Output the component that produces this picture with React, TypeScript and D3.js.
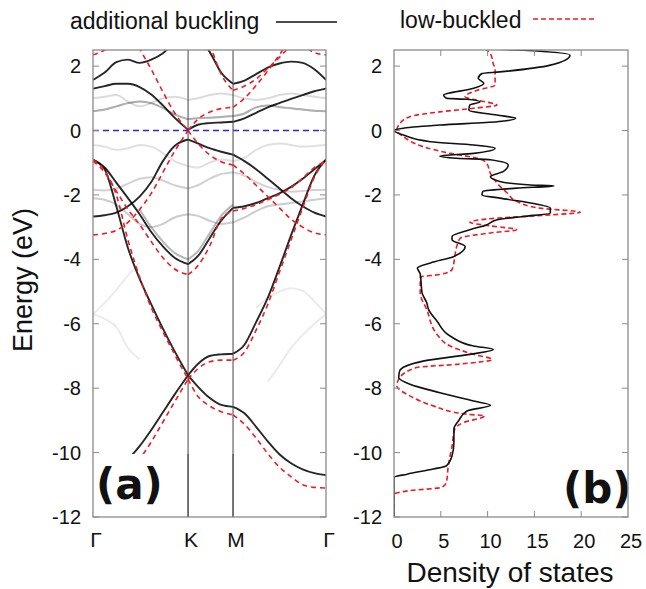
import React from "react";
import * as d3 from "d3";

// k-path sample positions (fraction of Γ-K-M-Γ path)
const kGrid = [0, 0.05, 0.1, 0.15, 0.2, 0.25, 0.3, 0.35, 0.408, 0.45, 0.5, 0.55, 0.601, 0.65, 0.7, 0.75, 0.8, 0.85, 0.9, 0.95, 1];
const kPoints = [0, 0.408, 0.601, 1];
const kLabels = ["Γ", "K", "M", "Γ"];
const energyTicks = [2, 0, -2, -4, -6, -8, -10, -12];
const dosTicks = [0, 5, 10, 15, 20, 25];

// additional buckling: dark bands (eV at kGrid)
const addSigma1 = [-10.7, -10.62, -10.45, -10.2, -9.8, -9.3, -8.75, -8.2, -7.6, -7.95, -8.3, -8.52, -8.58, -8.78, -9.2, -9.65, -10.05, -10.33, -10.52, -10.64, -10.7];
const addSigma2 = [-0.9, -1.2, -2.35, -3.65, -4.6, -5.4, -6.15, -6.85, -7.6, -7.25, -7.0, -6.95, -6.93, -6.65, -5.95, -5.2, -4.25, -3.25, -2.3, -1.4, -0.9];
const addSigma3 = [-0.92, -1.15, -1.62, -2.1, -2.6, -3.15, -3.6, -3.95, -4.15, -3.9, -3.35, -2.8, -2.4, -2.35, -2.25, -2.1, -1.95, -1.75, -1.5, -1.2, -0.92];
const addPi = [-2.67, -2.63, -2.55, -2.35, -2.05, -1.6, -0.95, -0.48, -0.28, -0.4, -0.55, -0.66, -0.75, -0.95, -1.2, -1.5, -1.8, -2.1, -2.35, -2.55, -2.67];
const addPiStar = [1.3, 1.38, 1.45, 1.45, 1.35, 1.12, 0.78, 0.4, 0.02, 0.18, 0.23, 0.25, 0.27, 0.38, 0.55, 0.72, 0.85, 0.98, 1.1, 1.22, 1.3];
const addUpper = [1.57, 1.8, 2.12, 2.2, 2.1, 2.2, 2.4, 2.75, 3.2, 2.9, 2.45, 1.8, 1.45, 1.55, 1.75, 1.95, 2.08, 2.14, 2.1, 1.9, 1.57];
// additional buckling: weaker (unfolded) bands
const addMid = [0.6, 0.65, 0.75, 0.85, 0.9, 0.85, 0.7, 0.5, 0.35, 0.38, 0.4, 0.42, 0.45, 0.53, 0.72, 0.78, 0.73, 0.69, 0.65, 0.61, 0.6];
const addGhost1 = [-1.84, -1.86, -1.8, -1.65, -1.5, -1.45, -1.55, -1.7, -1.8, -1.7, -1.5, -1.35, -1.3, -1.4, -1.6, -1.75, -1.85, -1.9, -1.88, -1.85, -1.84];
const addGhost2 = [1.0, 1.05, 1.1, 0.9, 0.75, 0.85, 1.0, 1.05, 0.95, 1.0, 1.1, 1.15, 1.1, 1.0, 0.95, 1.0, 1.1, 1.15, 1.1, 1.05, 1.0];
const addGhost3 = [-0.45, -0.5, -0.6, -0.55, -0.45, -0.5, -0.7, -0.95, -1.1, -1.15, -1.0, -0.9, -0.95, -0.85, -0.6, -0.45, -0.4, -0.45, -0.5, -0.48, -0.45];
const addGhost4 = [-2.1, -2.15, -2.3, -2.6, -2.9, -3.0, -2.9, -2.7, -2.6, -2.65, -2.8, -2.9, -2.85, -2.7, -2.5, -2.35, -2.3, -2.25, -2.2, -2.15, -2.1];
const addGhost5 = [null, null, null, null, -2.45, -3.0, -3.45, -3.8, -4.0, -3.75, -3.2, -2.65, -2.3, null, null, null, null, null, null, null, null];
const addGhost6 = [-5.7, -5.35, -4.95, -4.5, -4.1, null, null, null, null, null, null, null, null, null, -5.5, -5.2, -5.0, -4.9, -4.98, -5.3, -5.7];
const addGhost7 = [-5.7, -5.85, -6.1, -6.75, -7.1, null, null, null, null, null, null, null, null, null, null, -7.8, -7.3, -6.75, -6.35, -6.0, -5.7];

// low-buckled bands
const lowSigma1 = [-11.1, -11.05, -10.9, -10.6, -10.2, -9.67, -9.05, -8.43, -7.72, -8.25, -8.55, -8.73, -8.83, -9.12, -9.55, -10.03, -10.45, -10.75, -11.0, -11.08, -11.1];
const lowSigma2 = [-0.9, -1.25, -2.0, -3.4, -4.55, -5.5, -6.25, -6.95, -7.72, -7.4, -7.18, -7.13, -7.13, -6.88, -6.2, -5.4, -4.4, -3.4, -2.4, -1.45, -0.9];
const lowSigma3 = [-0.95, -1.3, -1.88, -2.45, -2.92, -3.45, -3.95, -4.3, -4.47, -4.2, -3.6, -2.75, -2.5, -2.42, -2.3, -2.15, -1.98, -1.78, -1.48, -1.15, -0.95];
const lowPi = [-3.24, -3.2, -3.1, -2.85, -2.45, -1.95, -1.3, -0.65, 0, -0.4, -0.75, -0.97, -1.07, -1.35, -1.7, -2.05, -2.4, -2.75, -3.0, -3.18, -3.24];
const lowPiStar = [4.6, 4.4, 3.95, 3.3, 2.55, 1.9, 1.2, 0.55, 0, 0.35, 0.57, 0.68, 0.72, 1.0, 1.4, 1.85, 2.35, 2.9, 3.5, 4.1, 4.6];
const lowUpper1 = [null, null, null, null, null, null, null, null, 4.5, 3.6, 2.7, 1.75, 1.25, 1.38, 1.6, 1.93, 2.27, 2.65, 3.0, 3.3, 3.4];
const lowUpper2 = [2.35, 2.5, 2.8, 3.2, null, null, null, null, null, null, null, null, null, null, null, null, null, 3.2, 2.7, 2.42, 2.35];

// density of states (energy, states)
const addDosE = [2.54, 2.49, 2.34, 2.03, 1.82, 1.77, 1.62, 1.46, 1.31, 1.1, 1.0, 0.97, 0.89, 0.79, 0.63, 0.48, 0.38, 0.27, 0.17, 0.07, 0.0, -0.14, -0.35, -0.45, -0.55, -0.71, -0.79, -0.86, -0.91, -1.07, -1.27, -1.43, -1.58, -1.69, -1.72, -1.79, -1.89, -2.0, -2.1, -2.25, -2.41, -2.56, -2.67, -2.77, -2.93, -3.08, -3.29, -3.39, -3.6, -3.91, -4.11, -4.27, -4.45, -5.04, -5.35, -5.56, -5.92, -6.38, -6.69, -6.8, -6.95, -7.16, -7.47, -7.67, -7.88, -8.14, -8.4, -8.53, -8.71, -9.01, -9.27, -9.68, -10.1, -10.41, -10.51, -10.67, -10.77, -12];
const addDos = [9.9, 13.8, 18.8, 16.7, 11.3, 9.4, 9.0, 9.6, 8.5, 5.3, 5.6, 7.8, 9.2, 8.1, 8.0, 11.0, 13.0, 11.0, 4.9, 1.0, 0, 1.0, 3.9, 8.5, 10.8, 8.5, 4.9, 6.7, 10.3, 12.2, 11.7, 10.3, 11.3, 14.6, 17.1, 13.1, 9.5, 9.4, 11.3, 14.6, 16.7, 16.7, 13.8, 11.0, 9.9, 8.1, 6.2, 6.2, 7.6, 6.4, 3.9, 2.5, 2.8, 3.0, 3.5, 3.7, 4.6, 6.0, 8.5, 10.6, 8.1, 3.1, 0.6, 0.5, 1.7, 4.9, 8.5, 10.3, 7.8, 6.9, 6.4, 6.4, 6.2, 5.6, 4.2, 1.4, 0, 0];
const lowDosE = [2.54, 2.39, 2.08, 1.87, 1.41, 1.25, 1.05, 0.94, 0.79, 0.69, 0.58, 0.43, 0.17, 0.0, -0.19, -0.5, -0.71, -0.86, -1.02, -1.33, -1.63, -1.94, -2.2, -2.41, -2.54, -2.62, -2.72, -2.85, -2.96, -3.08, -3.18, -3.34, -3.6, -3.91, -4.32, -4.47, -4.55, -5.04, -5.56, -6.33, -6.69, -6.95, -7.11, -7.26, -7.36, -7.72, -7.93, -8.24, -8.55, -8.81, -8.86, -9.07, -9.27, -9.79, -10.41, -10.92, -11.08, -11.18, -11.29, -12];
const lowDos = [9.7, 10.3, 10.6, 10.8, 10.8, 8.9, 7.6, 8.9, 11.0, 8.5, 4.9, 1.7, 0.5, 0.3, 1.0, 3.1, 6.0, 8.9, 9.9, 10.3, 11.0, 12.1, 13.1, 15.6, 19.9, 16.7, 11.0, 8.1, 10.3, 13.1, 10.3, 7.1, 6.7, 6.5, 6.2, 4.9, 2.8, 2.8, 3.5, 4.6, 6.0, 8.5, 10.5, 6.7, 2.4, 0.5, 0.3, 1.7, 4.2, 7.8, 9.7, 7.4, 6.5, 6.2, 5.8, 5.6, 5.1, 1.7, 0, 0];

const W = 646;
const H = 589;
const TOP = 50;
const BOTTOM = 517;
const A = { left: 93, right: 326 };
const B = { left: 394, right: 628 };
const FONT = "'Liberation Sans', Arial, sans-serif";
const RED = "#ec1c24";
const FRAME = "#8a8a8a";

const y = d3.scaleLinear().domain([-12, 2.5]).range([BOTTOM, TOP]);
const xk = d3.scaleLinear().domain([0, 1]).range([A.left, A.right]);
const xd = d3.scaleLinear().domain([0, 25]).range([B.left, B.right]);

const bandLine = d3
  .line<[number, number | null]>()
  .defined((d) => d[1] !== null)
  .x((d) => xk(d[0]))
  .y((d) => y(d[1] as number))
  .curve(d3.curveMonotoneX);

// split each band at K and M so the kinks stay sharp
function bandPath(values: (number | null)[]) {
  const segs = [[0, 8], [8, 12], [12, 20]];
  return segs
    .map(([a, b]) => bandLine(kGrid.slice(a, b + 1).map((k, i) => [k, values[a + i]] as [number, number | null])) || "")
    .join(" ");
}

const dosLine = d3
  .line<[number, number]>()
  .x((d) => xd(d[1]))
  .y((d) => y(d[0]))
  .curve(d3.curveMonotoneY);

function dosPath(es: number[], vs: number[]) {
  return dosLine(es.map((e, i) => [e, vs[i]] as [number, number])) || "";
}

export default function App() {
  const strong = [addSigma1, addSigma2, addSigma3, addPi, addPiStar, addUpper];
  const ghosts: [(number | null)[], number][] = [
    [addMid, 0.35],
    [addGhost1, 0.18],
    [addGhost2, 0.14],
    [addGhost3, 0.12],
    [addGhost4, 0.2],
    [addGhost5, 0.28],
    [addGhost6, 0.08],
    [addGhost7, 0.08],
  ];
  const lows = [lowSigma1, lowSigma2, lowSigma3, lowPi, lowPiStar, lowUpper1, lowUpper2];

  return (
    <svg width={W} height={H} style={{ position: "absolute", left: 0, top: 0, background: "#fff" }} fontFamily={FONT}>
      <defs>
        <clipPath id="clipA">
          <rect x={A.left} y={TOP} width={A.right - A.left} height={BOTTOM - TOP} />
        </clipPath>
        <clipPath id="clipB">
          <rect x={B.left} y={TOP} width={B.right - B.left} height={BOTTOM - TOP} />
        </clipPath>
        <filter id="soft" x="-5%" y="-5%" width="110%" height="110%">
          <feGaussianBlur stdDeviation="0.6" />
        </filter>
      </defs>

      {/* legend */}
      <text x={70} y={29} fontSize={23} fill="#111">additional buckling</text>
      <line x1={276} x2={337} y1={22} y2={22} stroke="#111" strokeWidth={1.5} />
      <text x={400} y={28} fontSize={23} fill="#111">low-buckled</text>
      <line x1={533} x2={597} y1={19} y2={19} stroke={RED} strokeWidth={1.5} strokeDasharray="5 3" />

      {/* panel (a): band structure */}
      <g clipPath="url(#clipA)">
        <g filter="url(#soft)" fill="none">
          {ghosts.map(([v, o], i) => (
            <path key={"g" + i} d={bandPath(v)} stroke="#111" strokeOpacity={o} strokeWidth={2} />
          ))}
          {strong.map((v, i) => (
            <path key={"s" + i} d={bandPath(v)} stroke="#000" strokeOpacity={0.85} strokeWidth={1.9} />
          ))}
        </g>
        {kPoints.slice(1, 3).map((k, i) => (
          <line key={i} x1={xk(k)} x2={xk(k)} y1={TOP} y2={BOTTOM} stroke="#444" strokeWidth={1} />
        ))}
        {lows.map((v, i) => (
          <path key={"r" + i} d={bandPath(v)} fill="none" stroke={RED} strokeWidth={1.6} strokeDasharray="5 4" />
        ))}
        <line x1={A.left} x2={A.right} y1={y(0)} y2={y(0)} stroke="#2a2ae6" strokeWidth={1.6} strokeDasharray="6 4" />
        <rect x={A.left} y={454} width={66} height={BOTTOM - 454} fill="#fff" />
        {kPoints.slice(1, 3).map((k, i) => (
          <line key={"w" + i} x1={xk(k)} x2={xk(k)} y1={454} y2={BOTTOM} stroke="#444" strokeWidth={1} />
        ))}
      </g>
      <text x={96} y={499} fontSize={42} fontWeight="bold" fontFamily="'DejaVu Sans', sans-serif" fill="#111">(a)</text>
      <rect x={A.left} y={TOP} width={A.right - A.left} height={BOTTOM - TOP} fill="none" stroke={FRAME} strokeWidth={1.3} />
      {energyTicks.map((e) => (
        <g key={"ta" + e}>
          <line x1={A.left} x2={A.left + 6} y1={y(e)} y2={y(e)} stroke={FRAME} />
          <line x1={A.right - 6} x2={A.right} y1={y(e)} y2={y(e)} stroke={FRAME} />
          <text x={81} y={y(e) + 7} fontSize={20} textAnchor="end" fill="#111">{e}</text>
        </g>
      ))}
      {kPoints.map((k, i) => (
        <text key={"k" + i} x={xk(k) + 3} y={547} fontSize={21} textAnchor="middle" fill="#111">{kLabels[i]}</text>
      ))}
      <text transform="translate(32,280) rotate(-90)" fontSize={27} textAnchor="middle" fill="#111">Energy (eV)</text>

      {/* panel (b): density of states */}
      <g clipPath="url(#clipB)" fill="none">
        <path d={dosPath(lowDosE, lowDos)} stroke={RED} strokeWidth={1.6} strokeDasharray="5 3" />
        <path d={dosPath(addDosE, addDos)} stroke="#111" strokeWidth={1.6} />
      </g>
      <text x={563} y={503} fontSize={42} fontWeight="bold" fontFamily="'DejaVu Sans', sans-serif" fill="#111">(b)</text>
      <rect x={B.left} y={TOP} width={B.right - B.left} height={BOTTOM - TOP} fill="none" stroke={FRAME} strokeWidth={1.3} />
      {energyTicks.map((e) => (
        <g key={"tb" + e}>
          <line x1={B.left} x2={B.left + 6} y1={y(e)} y2={y(e)} stroke={FRAME} />
          <line x1={B.right - 6} x2={B.right} y1={y(e)} y2={y(e)} stroke={FRAME} />
          <text x={382} y={y(e) + 7} fontSize={20} textAnchor="end" fill="#111">{e}</text>
        </g>
      ))}
      {dosTicks.map((t) => (
        <g key={"td" + t}>
          {t > 0 && t < 25 && (
            <>
              <line x1={xd(t)} x2={xd(t)} y1={BOTTOM} y2={BOTTOM - 6} stroke={FRAME} />
              <line x1={xd(t)} x2={xd(t)} y1={TOP} y2={TOP + 6} stroke={FRAME} />
            </>
          )}
          <text x={xd(t) + 3} y={548} fontSize={20} textAnchor="middle" fill="#111">{t}</text>
        </g>
      ))}
      <text x={510} y={582} fontSize={28} textAnchor="middle" fill="#111">Density of states</text>
    </svg>
  );
}
